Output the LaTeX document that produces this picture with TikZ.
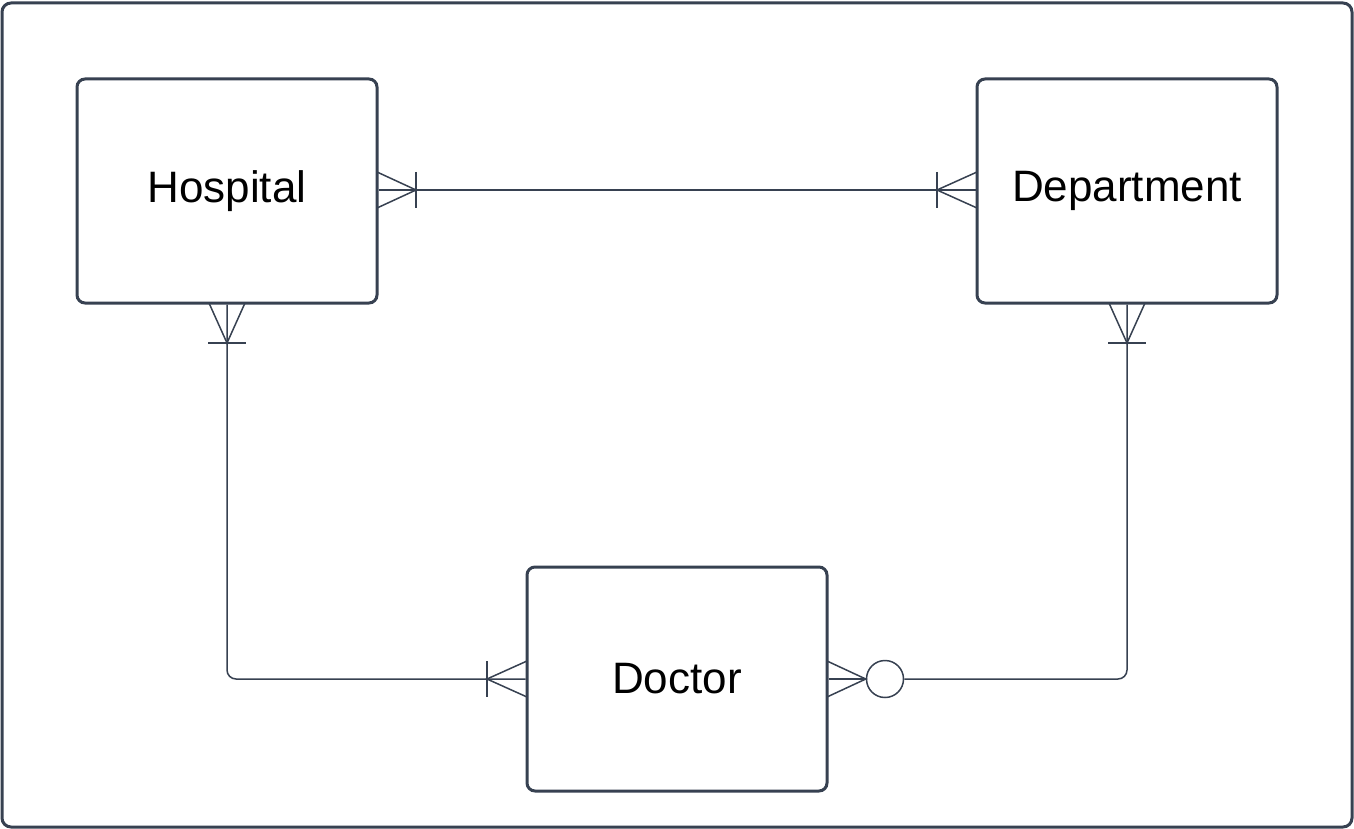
\documentclass[tikz,border=0pt]{standalone}
\usepackage{fontspec}
\setmainfont{Liberation Sans}
\begin{document}
\begin{tikzpicture}[x=1pt,y=-1pt,
  entity/.style={draw=edge,line width=3pt,rounded corners=8pt,fill=white,
    minimum width=300pt,minimum height=224pt,inner sep=0pt,
    font=\fontsize{44}{52}\selectfont,text=black},
  rel/.style={draw=edge,line width=1.5pt},
]
\definecolor{edge}{HTML}{374151}
\useasboundingbox (0,0) rectangle (1354,829);
\draw[draw=edge,line width=3pt,rounded corners=9pt] (2,3) rectangle (1352,827);

\node[entity] (hosp) at (227,191) {Hospital};
\node[entity] (dept) at (1127,191) {Department};
\node[entity] (doc) at (677,679) {Doctor};

% Hospital -- Department
\draw[rel] (hosp.east |- 0,190) -- (dept.west |- 0,190);
\draw[rel] (377,172) -- (416,190) -- (377,208);
\draw[rel] (416,172) -- (416,208);
\draw[rel] (977,172) -- (937,190) -- (977,208);
\draw[rel] (937,172) -- (937,208);

% Hospital -- Doctor
\coordinate (hb) at (hosp.south);
\coordinate (dl) at (doc.west);
\draw[rel,rounded corners=9pt] (hb) -- (hb |- dl) -- (dl);
\draw[rel] (209,303) -- (227,343) -- (245,303);
\draw[rel] (208,343) -- (246,343);
\draw[rel] (527,661) -- (487,679) -- (527,697);
\draw[rel] (487,661) -- (487,697);

% Department -- Doctor
\coordinate (db) at (dept.south);
\node[circle,draw=edge,line width=1.5pt,minimum size=37pt,inner sep=0pt,fill=white] (opt) at (885,679) {};
\draw[rel,rounded corners=9pt] (opt.east) -- (db |- opt.east) -- (db);
\draw[rel] (827,661) -- (opt.west) -- (827,697);
\draw[rel] (doc.east) -- (opt.west);
\draw[rel] (1109,303) -- (1127,343) -- (1145,303);
\draw[rel] (1108,343) -- (1146,343);
\end{tikzpicture}
\end{document}
